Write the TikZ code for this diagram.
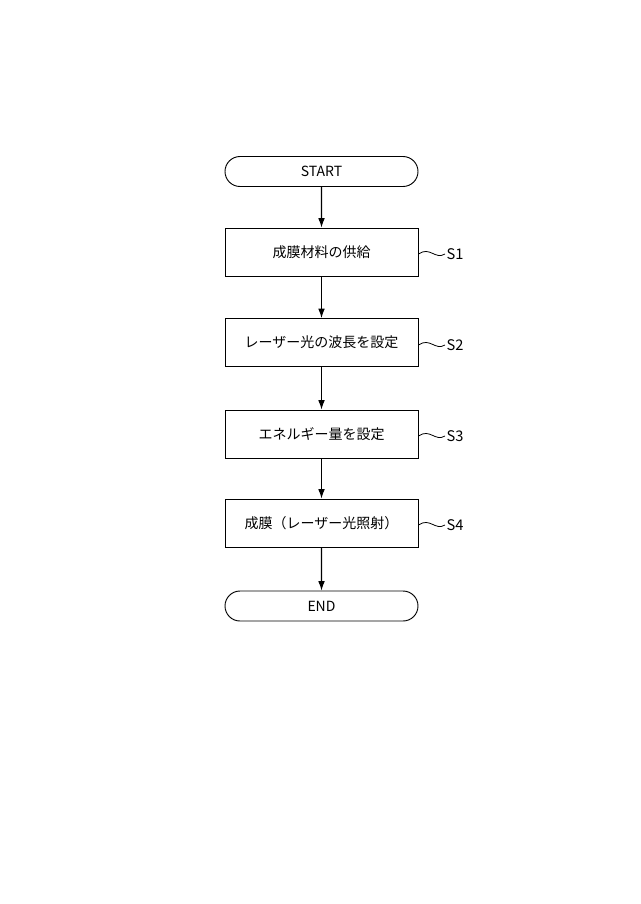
\documentclass[tikz,border=0pt]{standalone}
\usepackage{fontspec}
\setmainfont{Noto Sans CJK JP}
\usetikzlibrary{shapes.misc,arrows.meta}
\begin{document}
\begin{tikzpicture}[x=0.75pt,y=-0.75pt,
  stepbox/.style={draw,line width=0.7pt,minimum width=193*0.75pt,minimum height=48*0.75pt,inner sep=0pt,font=\fontsize{10.5}{12}\selectfont},
  term/.style={draw,line width=0.7pt,rounded rectangle,minimum width=193*0.75pt,minimum height=30*0.75pt,inner sep=0pt,font=\fontsize{10.5}{12}\selectfont},
  arr/.style={-{Latex[length=7pt,width=5pt]},line width=0.8pt},
  lab/.style={font=\fontsize{11}{13}\selectfont,anchor=west,inner sep=1pt}]
\useasboundingbox (0,0) rectangle (640,904);
\node[term] (st) at (321.5,171.5) {START};
\node[stepbox] (s1) at (321.5,252) {成膜材料の供給};
\node[stepbox] (s2) at (321.5,342.5) {レーザー光の波長を設定};
\node[stepbox] (s3) at (321.5,434) {エネルギー量を設定};
\node[stepbox] (s4) at (321.5,523) {成膜（レーザー光照射）};
\node[term] (en) at (321.5,606) {END};
\draw[arr] (st) -- (s1);
\draw[arr] (s1) -- (s2);
\draw[arr] (s2) -- (s3);
\draw[arr] (s3) -- (s4);
\draw[arr] (s4) -- (en);
\foreach \n/\t/\y in {s1/S1/254,s2/S2/345,s3/S3/436,s4/S4/525}{
  \coordinate (w\n) at (445,\y);
  \node[lab] (l\n) at (w\n) {\t};
  \draw[line width=0.6pt] (\n.east |- 0,\y) .. controls (430,\y-8) and (435,\y+6) .. (w\n);
}
\end{tikzpicture}
\end{document}
